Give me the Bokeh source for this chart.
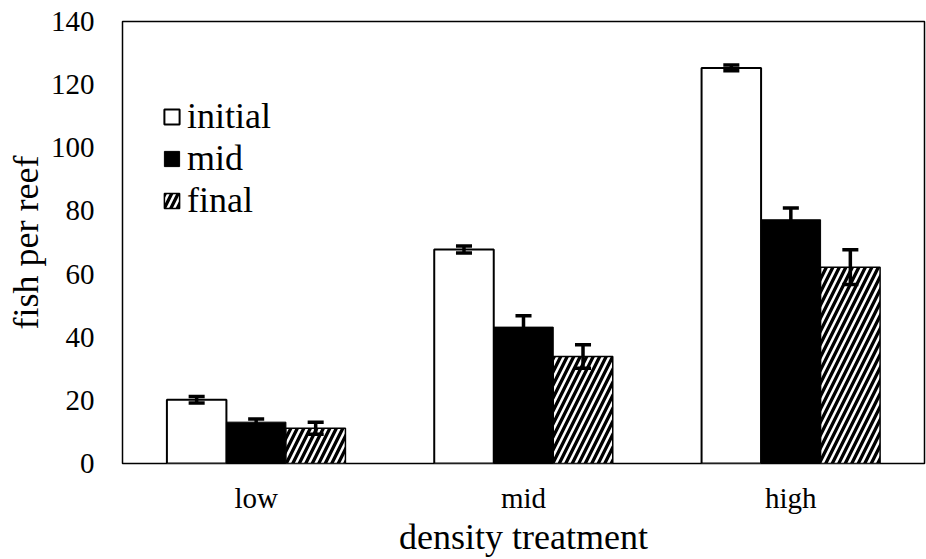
from bokeh.plotting import figure
from bokeh.models import ColumnDataSource, FactorRange, FixedTicker, Legend, LegendItem
from bokeh.transform import dodge
from bokeh.embed import file_html
from bokeh.resources import INLINE

# Fish counts per reef by density treatment (mean ± error)
treatments = ["low", "mid", "high"]
initial = [20.2, 67.8, 125.3]
initial_err = [1.0, 1.1, 0.9]
mid = [13.1, 43.2, 77.2]
mid_err = [1.0, 3.6, 3.7]
final = [11.2, 33.9, 62.2]
final_err = [1.9, 3.7, 5.5]
y_ticks = [0, 20, 40, 60, 80, 100, 120, 140]

FONT = "Liberation Serif"
BAR_W = 0.2226   # bar width in category units
CAP_W = 0.06     # error-bar cap width in category units

p = figure(
    x_range=FactorRange(factors=treatments, range_padding=0),
    y_range=(0, 140),
    width=926, height=559,
    output_backend="svg", toolbar_location=None,
    min_border_left=122, min_border_right=2,
    min_border_top=21, min_border_bottom=96,
)
p.background_fill_color = "white"
p.border_fill_color = "white"
p.outline_line_color = "black"
p.outline_line_width = 1.5
p.xgrid.visible = False
p.ygrid.visible = False

series = [
    ("initial", initial, initial_err, -BAR_W,
     dict(fill_color="white", line_color="black", line_width=2)),
    ("mid", mid, mid_err, 0.0,
     dict(fill_color="black", line_color="black", line_width=1)),
    ("final", final, final_err, BAR_W,
     dict(fill_color="white", hatch_pattern="/", hatch_color="black",
          hatch_scale=13, hatch_weight=3.3, line_color="black", line_width=1.5)),
]

items = []
for name, vals, errs, off, style in series:
    src = ColumnDataSource(dict(
        x=treatments,
        top=vals,
        upper=[v + e for v, e in zip(vals, errs)],
        lower=[v - e for v, e in zip(vals, errs)],
    ))
    bars = p.vbar(x=dodge("x", off, range=p.x_range), top="top", width=BAR_W,
                  source=src, **style)
    # error stems and caps
    p.segment(x0=dodge("x", off, range=p.x_range), y0="lower",
              x1=dodge("x", off, range=p.x_range), y1="upper",
              source=src, line_color="black", line_width=3.5)
    for end in ("upper", "lower"):
        p.segment(x0=dodge("x", off - CAP_W / 2, range=p.x_range), y0=end,
                  x1=dodge("x", off + CAP_W / 2, range=p.x_range), y1=end,
                  source=src, line_color="black", line_width=3.5)
    items.append(LegendItem(label=name, renderers=[bars]))

legend = Legend(items=items, location=(40, 242), orientation="vertical")
legend.border_line_color = None
legend.background_fill_alpha = 0
legend.glyph_width = 19
legend.glyph_height = 19
legend.padding = 0
legend.spacing = 0
legend.label_standoff = 6
legend.label_text_font = FONT
legend.label_text_font_size = "36px"
legend.label_text_color = "black"
legend.label_text_baseline = "middle"
p.add_layout(legend)

for ax in (p.xaxis[0], p.yaxis[0]):
    ax.axis_line_color = None
    ax.major_tick_line_color = None
    ax.minor_tick_line_color = None
    ax.major_tick_out = 0
    ax.major_label_text_font = FONT
    ax.major_label_text_font_size = "29px"
    ax.major_label_text_color = "black"
    ax.axis_label_text_font = FONT
    ax.axis_label_text_font_size = "36px"
    ax.axis_label_text_font_style = "normal"
    ax.axis_label_text_color = "black"

p.yaxis.ticker = FixedTicker(ticks=y_ticks)
p.yaxis.major_label_standoff = 28
p.yaxis.axis_label = "fish per reef"
p.yaxis.axis_label_standoff = 2

p.xaxis.major_label_standoff = 18
p.xaxis.axis_label = "density treatment"
p.xaxis.axis_label_standoff = 0

open("out.html", "w").write(file_html(p, INLINE))
